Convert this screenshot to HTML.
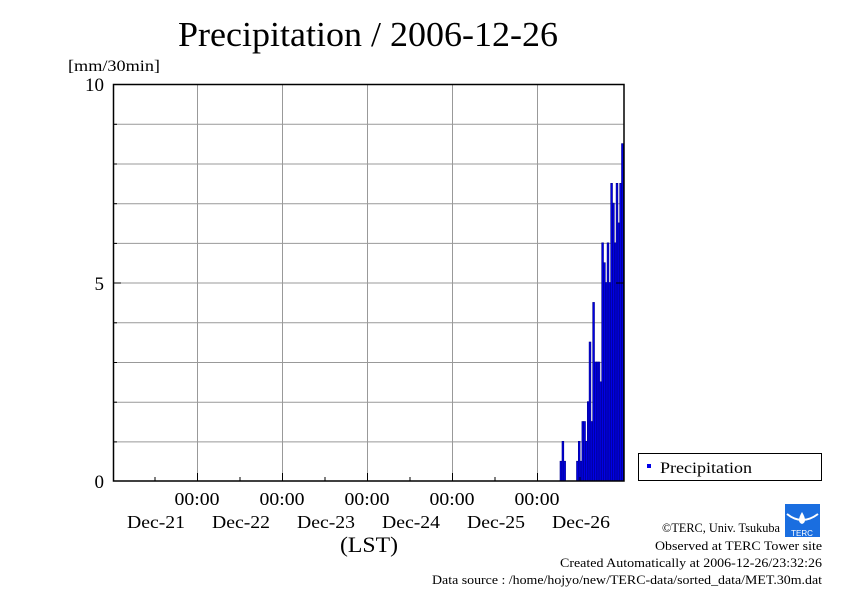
<!DOCTYPE html>
<html><head><style>
body{margin:0;background:#fff;}
svg{display:block;font-family:"Liberation Serif",serif;}
</style></head><body>
<svg width="842" height="595" viewBox="0 0 842 595">
<text x="178" y="46" font-size="35" textLength="380" lengthAdjust="spacingAndGlyphs">Precipitation / 2006-12-26</text>
<text x="68" y="71" font-size="16" textLength="92" lengthAdjust="spacingAndGlyphs">[mm/30min]</text>
<g stroke="#999" stroke-width="1">
<line x1="113" x2="624" y1="124.3" y2="124.3"/><line x1="113" x2="624" y1="164" y2="164"/>
<line x1="113" x2="624" y1="203.7" y2="203.7"/><line x1="113" x2="624" y1="243.4" y2="243.4"/>
<line x1="113" x2="624" y1="283" y2="283"/><line x1="113" x2="624" y1="322.8" y2="322.8"/>
<line x1="113" x2="624" y1="362.5" y2="362.5"/><line x1="113" x2="624" y1="402.2" y2="402.2"/>
<line x1="113" x2="624" y1="441.9" y2="441.9"/>
<line x1="197.5" x2="197.5" y1="84" y2="481"/><line x1="282.5" x2="282.5" y1="84" y2="481"/>
<line x1="367.5" x2="367.5" y1="84" y2="481"/><line x1="452.5" x2="452.5" y1="84" y2="481"/>
<line x1="537.5" x2="537.5" y1="84" y2="481"/>
</g>
<g fill="#0000e6" stroke="#00008a" stroke-width="0.6">
<rect x="560" y="461.2" width="1.8" height="19.8"/>
<rect x="562" y="441.3" width="1.8" height="39.7"/>
<rect x="563.8" y="461.2" width="1.8" height="19.8"/>
<rect x="576.5" y="461.2" width="1.8" height="19.8"/>
<rect x="578.3" y="441.3" width="1.8" height="39.7"/>
<rect x="580.1" y="461.2" width="1.8" height="19.8"/>
<rect x="581.9" y="421.5" width="1.8" height="59.5"/>
<rect x="583.7" y="421.5" width="1.8" height="59.5"/>
<rect x="585.5" y="441.3" width="1.8" height="39.7"/>
<rect x="587.3" y="401.6" width="1.8" height="79.4"/>
<rect x="589.1" y="342" width="1.8" height="139"/>
<rect x="590.9" y="421.5" width="1.8" height="59.5"/>
<rect x="592.7" y="302.4" width="1.8" height="178.6"/>
<rect x="594.5" y="362" width="1.8" height="119"/>
<rect x="596.3" y="362" width="1.8" height="119"/>
<rect x="598.1" y="362" width="1.8" height="119"/>
<rect x="599.9" y="381.8" width="1.8" height="99.2"/>
<rect x="601.7" y="242.8" width="1.8" height="238.2"/>
<rect x="603.5" y="262.7" width="1.8" height="218.3"/>
<rect x="605.3" y="282.5" width="1.8" height="198.5"/>
<rect x="607.1" y="242.8" width="1.8" height="238.2"/>
<rect x="608.9" y="282.5" width="1.8" height="198.5"/>
<rect x="610.7" y="183.3" width="1.8" height="297.7"/>
<rect x="612.5" y="203.1" width="1.8" height="277.9"/>
<rect x="614.3" y="242.8" width="1.8" height="238.2"/>
<rect x="616.1" y="183.3" width="1.8" height="297.7"/>
<rect x="617.9" y="222.9" width="1.8" height="258.1"/>
<rect x="619.7" y="183.3" width="1.8" height="297.7"/>
<rect x="621.5" y="143.6" width="1.8" height="337.4"/>
</g>
<rect x="113.5" y="84.5" width="510.5" height="396.5" fill="none" stroke="#000" stroke-width="1.5"/>
<g stroke="#000" stroke-width="1">
<line x1="113" x2="121" y1="84.5" y2="84.5"/><line x1="113" x2="121" y1="283" y2="283"/>
<line x1="616" x2="624" y1="84.5" y2="84.5"/><line x1="616" x2="624" y1="283" y2="283"/>
<line x1="113" x2="117" y1="124.3" y2="124.3"/><line x1="113" x2="117" y1="164" y2="164"/><line x1="113" x2="117" y1="203.7" y2="203.7"/><line x1="113" x2="117" y1="243.4" y2="243.4"/><line x1="113" x2="117" y1="322.8" y2="322.8"/><line x1="113" x2="117" y1="362.5" y2="362.5"/><line x1="113" x2="117" y1="402.2" y2="402.2"/><line x1="113" x2="117" y1="441.9" y2="441.9"/>
<line x1="197.5" x2="197.5" y1="481" y2="473"/><line x1="282.5" x2="282.5" y1="481" y2="473"/><line x1="367.5" x2="367.5" y1="481" y2="473"/><line x1="452.5" x2="452.5" y1="481" y2="473"/><line x1="537.5" x2="537.5" y1="481" y2="473"/>
<line x1="155" x2="155" y1="481" y2="477"/><line x1="240" x2="240" y1="481" y2="477"/><line x1="325" x2="325" y1="481" y2="477"/><line x1="410" x2="410" y1="481" y2="477"/><line x1="495" x2="495" y1="481" y2="477"/><line x1="580" x2="580" y1="481" y2="477"/>
</g>
<g font-size="19" text-anchor="end">
<text x="104" y="91">10</text><text x="104" y="290">5</text><text x="104" y="488">0</text>
</g>
<g font-size="18" text-anchor="middle">
<text x="197" y="505" textLength="45" lengthAdjust="spacingAndGlyphs">00:00</text><text x="282" y="505" textLength="45" lengthAdjust="spacingAndGlyphs">00:00</text><text x="367" y="505" textLength="45" lengthAdjust="spacingAndGlyphs">00:00</text><text x="452" y="505" textLength="45" lengthAdjust="spacingAndGlyphs">00:00</text><text x="537" y="505" textLength="45" lengthAdjust="spacingAndGlyphs">00:00</text>
<text x="156" y="528" textLength="58" lengthAdjust="spacingAndGlyphs">Dec-21</text><text x="241" y="528" textLength="58" lengthAdjust="spacingAndGlyphs">Dec-22</text><text x="326" y="528" textLength="58" lengthAdjust="spacingAndGlyphs">Dec-23</text><text x="411" y="528" textLength="58" lengthAdjust="spacingAndGlyphs">Dec-24</text><text x="496" y="528" textLength="58" lengthAdjust="spacingAndGlyphs">Dec-25</text><text x="581" y="528" textLength="58" lengthAdjust="spacingAndGlyphs">Dec-26</text>
</g>
<text x="369" y="552" font-size="22" text-anchor="middle" textLength="58" lengthAdjust="spacingAndGlyphs">(LST)</text>
<rect x="638.5" y="453.5" width="183" height="27" fill="#fff" stroke="#000"/>
<rect x="647" y="464" width="4" height="4" fill="#0000e6"/>
<text x="660" y="473" font-size="16" textLength="92" lengthAdjust="spacingAndGlyphs">Precipitation</text>
<g font-size="12.5" text-anchor="end">
<text x="780" y="532" textLength="118" lengthAdjust="spacingAndGlyphs">©TERC, Univ. Tsukuba</text>
<text x="822" y="550" textLength="167" lengthAdjust="spacingAndGlyphs">Observed at TERC Tower site</text>
<text x="822" y="567" textLength="262" lengthAdjust="spacingAndGlyphs">Created Automatically at 2006-12-26/23:32:26</text>
<text x="822" y="584" textLength="390" lengthAdjust="spacingAndGlyphs">Data source : /home/hojyo/new/TERC-data/sorted_data/MET.30m.dat</text>
</g>
<rect x="785" y="504" width="35" height="33" fill="#1a6ee0"/>
<path d="M787 514 Q802 526 818 514" stroke="#fff" stroke-width="2" fill="none"/>
<path d="M802 512 Q796 522 802 524 Q808 522 802 512Z" fill="#fff"/>
<text x="802" y="536" font-size="8" fill="#fff" text-anchor="middle" font-family="Liberation Sans,sans-serif">TERC</text>
</svg>
</body></html>
